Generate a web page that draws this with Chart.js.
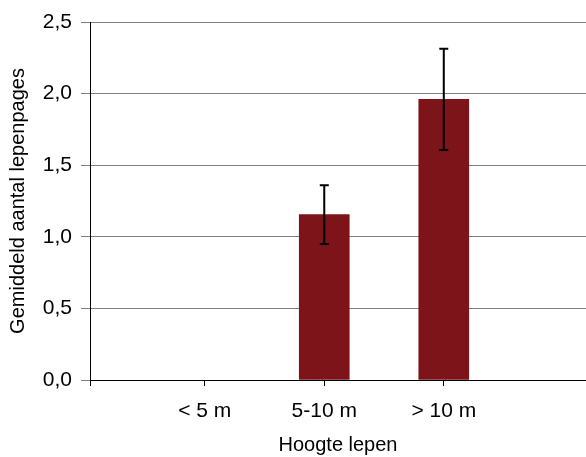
<!DOCTYPE html>
<html>
<head>
<meta charset="utf-8">
<script src="https://cdn.jsdelivr.net/npm/chart.js@4/dist/chart.umd.min.js"></script>
<style>
  html, body { margin: 0; padding: 0; background: #fff; }
  #wrap { width: 586px; height: 457px; position: relative; }
</style>
</head>
<body>
<div id="wrap"><canvas id="chart"></canvas></div>
<script>
// Hoogte lepen vs gemiddeld aantal lepenpages
const categorieen = ['< 5 m', '5-10 m', '> 10 m'];
const gemiddelde = [0, 1.155, 1.96];
const foutmarge = [0, 0.205, 0.354];
const yTicks = [0, 0.5, 1.0, 1.5, 2.0, 2.5];

const FONT = '"Liberation Sans", Arial, sans-serif';

// foutbalken tekenen met de schalen van de grafiek
const errorBars = {
  id: 'errorBars',
  afterDatasetsDraw(chart) {
    const ctx = chart.ctx;
    const y = chart.scales.y;
    const meta = chart.getDatasetMeta(0);
    ctx.save();
    ctx.strokeStyle = '#000';
    ctx.lineWidth = 2;
    meta.data.forEach((bar, i) => {
      const err = foutmarge[i];
      if (!err) return;
      const top = y.getPixelForValue(gemiddelde[i] + err);
      const bot = y.getPixelForValue(gemiddelde[i] - err);
      const x = bar.x;
      ctx.beginPath();
      ctx.moveTo(x, top); ctx.lineTo(x, bot);
      ctx.moveTo(x - 4.5, top); ctx.lineTo(x + 4.5, top);
      ctx.moveTo(x - 4.5, bot); ctx.lineTo(x + 4.5, bot);
      ctx.stroke();
    });
    ctx.restore();
  }
};

new Chart(document.getElementById('chart'), {
  type: 'bar',
  data: {
    datasets: [{
      data: gemiddelde.map((v, i) => ({ x: i + 1, y: v })),
      backgroundColor: c => (c.raw && c.raw.y ? '#7c1419' : 'rgba(0,0,0,0)'),
      borderWidth: 0,
      barThickness: 50
    }]
  },
  options: {
    responsive: true,
    maintainAspectRatio: false,
    animation: false,
    layout: { padding: { top: 22, right: 0, left: 0, bottom: 0 } },
    plugins: {
      legend: { display: false },
      tooltip: { enabled: false }
    },
    scales: {
      x: {
        type: 'linear',
        min: 0.04,
        max: 4.19,
        offset: false,
        afterBuildTicks: s => { s.ticks = [s.min, 1, 2, 3].map(v => ({ value: v })); },
        afterFit: s => { s.height = 77; },
        ticks: {
          color: '#000',
          font: { family: FONT, size: 21 },
          padding: 13,
          maxRotation: 0,
          autoSkip: false,
          callback: v => categorieen[v - 1] || ''
        },
        grid: { offset: false, drawOnChartArea: false, drawTicks: true, tickLength: 6, color: '#000', lineWidth: 1 },
        border: { color: '#000', width: 1 },
        title: {
          display: true,
          text: 'Hoogte lepen',
          color: '#000',
          font: { family: FONT, size: 20, lineHeight: 1 },
          padding: { top: 0, bottom: 2 }
        }
      },
      y: {
        min: 0,
        max: 2.5,
        afterBuildTicks: s => { s.ticks = yTicks.map(v => ({ value: v })); },
        afterFit: s => { s.width = 90; },
        ticks: {
          color: '#000',
          font: { family: FONT, size: 21 },
          padding: 9,
          callback: v => v.toFixed(1).replace('.', ',')
        },
        grid: { color: '#7f7f7f', lineWidth: 1, tickLength: 9 },
        border: { color: '#000', width: 1 },
        title: {
          display: true,
          text: 'Gemiddeld aantal lepenpages',
          color: '#000',
          font: { family: FONT, size: 20, lineHeight: 1 },
          padding: { top: 8, bottom: 0 }
        }
      }
    }
  },
  plugins: [errorBars]
});
</script>
</body>
</html>
